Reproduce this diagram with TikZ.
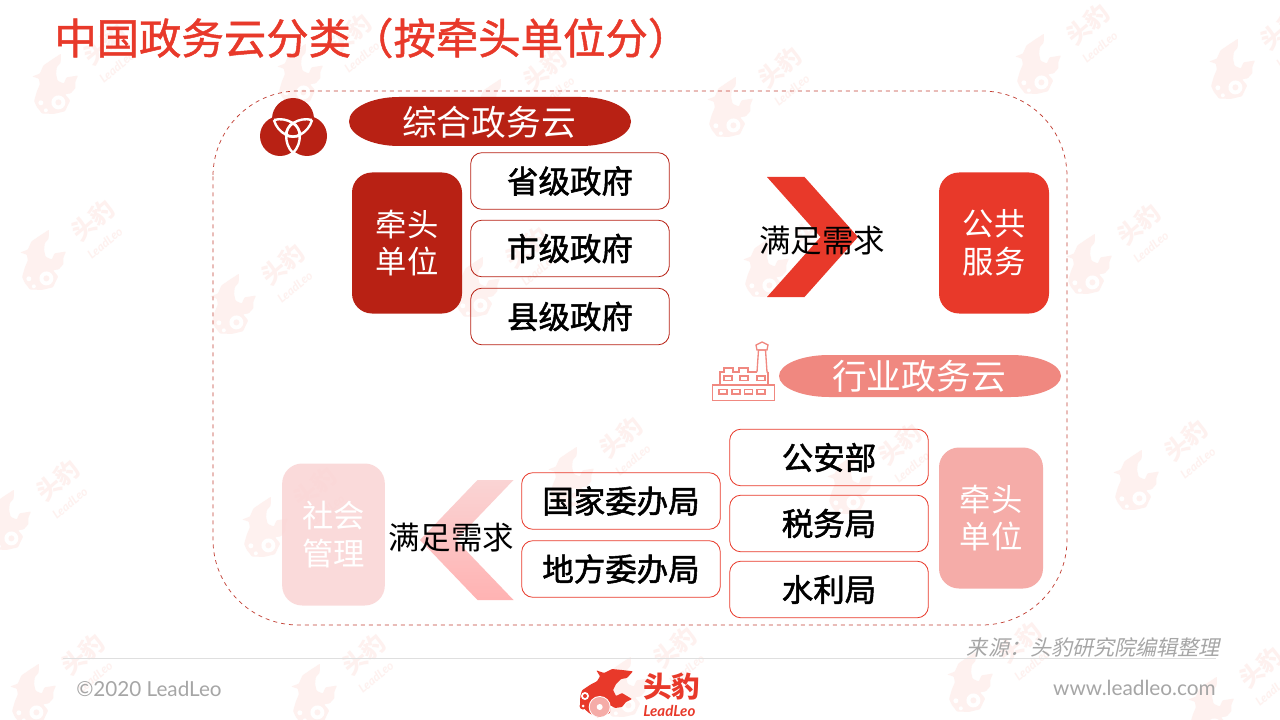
\documentclass[tikz,border=0pt]{standalone}
\usepackage{fontspec}
\usepackage{xcolor}
\newfontfamily\cjk{Noto Sans CJK SC}
\newfontfamily\cjkbf[FakeBold=1.7]{Noto Sans CJK SC}
\newfontfamily\cjkmed[FakeBold=1.1]{Noto Sans CJK SC}
\newfontfamily\cjkit[FakeSlant=0.22]{Noto Sans CJK SC}
\newfontfamily\lat{Lato}
\definecolor{leored}{HTML}{E8392A}
\definecolor{darkred}{HTML}{B82114}
\definecolor{palered}{HTML}{F08880}
\definecolor{softred}{HTML}{F5ACA8}
\definecolor{mistred}{HTML}{FAD4D4}
\definecolor{wmred}{HTML}{FEF1EF}
\definecolor{greytxt}{HTML}{A6A6A6}
\usetikzlibrary{
	calc,
	positioning,
	shadings
}
\newcommand{\leohead}[1]{%
	\fill[#1,rounded corners=.6pt] (-10.7,-22.7) -- (-3,-20) -- (5,-24) -- (15,-23) -- (26,-21.7)
		-- (20,-15) -- (14,-14) -- (9,-9) -- (6,-3) -- (9,3) -- (15,0)
		-- (25,6) -- (19,9) -- (15,14) -- (8,15) -- (3,12) -- (3,20) -- (-8,25) -- (-18,20)
		-- (-27,12) -- (-26.7,3.3) -- (-25,-2.7) -- (-16.7,-8.3) -- (-10,-11.7) -- (-7,-16.7) -- cycle;
}
\tikzset{
	unitblock/.style={fill=#1,rounded corners=15pt,text=white,align=center,
		font=\cjk\fontsize{23.5}{28.2}\selectfont,inner sep=0pt},
	namebox/.style={draw=#1,line width=.6pt,rounded corners=8.5pt,text=black,
		minimum width=149pt,minimum height=42.5pt,inner sep=0pt,
		font=\cjkbf\fontsize{23.6}{28}\selectfont},
	pilltext/.style={text=white,inner sep=0pt,font=\cjk\fontsize{26.1}{30}\selectfont},
	needtext/.style={text=black,inner sep=0pt,font=\cjk\fontsize{23.6}{28}\selectfont},
	wmark/.pic={
		\begin{scope}[rotate=40]
			\leohead{wmred}
			\fill[white] (-7.3,14) circle (7);
			\fill[wmred] (-7.3,14) circle (3);
			\fill[white] (-21,3) circle (2.5);
			\fill[white] (-22,12) circle (2);
		\end{scope}
		\node[rotate=40,text=wmred,inner sep=0pt,font=\cjk\bfseries\fontsize{18}{20}\selectfont] (-cn) at (50,-43) {头豹};
		\node[rotate=40,text=wmred,inner sep=0pt,font=\lat\bfseries\itshape\fontsize{9}{10}\selectfont] (-en) at (62,-20) {LeadLeo};
	}
}
\newcommand{\pillat}[5]{% x1,y1,x2,y2,colour
	\fill[#5] (#1,{(#2+#4)/2}) arc[start angle=180,end angle=90,x radius=50,y radius={(#4-#2)/2}]
		-- ({#3-50},#4) arc[start angle=90,end angle=-90,x radius=50,y radius={(#4-#2)/2}]
		-- ({#1+50},#2) arc[start angle=-90,end angle=-180,x radius=50,y radius={(#4-#2)/2}] -- cycle;
}

\begin{document}
\begin{tikzpicture}[x=.75pt,y=-.75pt]
	\clip (0,0) rectangle (1280,720);
	\fill[white] (0,0) rectangle (1280,720);
	% watermark
	\foreach \wx/\wy [count=\wi] in {55/87,300/77,495/112,730/110,1038/67,1232/72,
		43/263,233/307,477/290,766/270,1089/267,
		8/523,265/530,571/480,850/487,1136/483,
		33/697,314/697,625/690,970/685,1211/710}
		\pic (wm\wi) at (\wx,\wy) {wmark};
	
	\node[text=leored,anchor=west,inner sep=0pt,font=\cjkmed\fontsize{31.8}{36}\selectfont] (title) at (54,38) {中国政务云分类（按牵头单位分）};
	\draw[darkred!85!white,dashed,line width=.55pt,rounded corners=64pt] (213,91) rectangle (1067,625);
	
	% upper group
	\fill[darkred] (293,119) circle (21);
	\fill[darkred] (280,136) circle (20);
	\fill[darkred] (307,136) circle (20);
	\foreach \ang in {0,120,240}
		\draw[white,line width=1.8pt,rotate around={\ang:(293,131)}]
			(293,153) .. controls (283,143) and (285,127) .. (293,123) .. controls (301,127) and (303,143) .. (293,153);
	\pillat{349}{97}{631}{146}{darkred}
	\node[pilltext] (zonghe) at (489,122) {综合政务云};
	\node[unitblock=darkred,minimum width=82.5pt,minimum height=105.75pt] (qiantouA) at (407,243) {牵头\\单位};
	\node[namebox=darkred] (sheng) at (570,181) {省级政府};
	\node[namebox=darkred] (shi) at (570,248.5) {市级政府};
	\node[namebox=darkred] (xian) at (570,316.5) {县级政府};
	\fill[leored] (767,177) -- (804.5,177) -- (858,237) -- (804.5,297) -- (767,297) -- (820.5,237) -- cycle;
	\node[needtext] (needA) at (822,241) {满足需求};
	\node[unitblock=leored,minimum width=82.5pt,minimum height=105.75pt] (gonggong) at (994,243) {公共\\服务};
	
	% lower group
	\begin{scope}[draw=palered,line width=1pt]
		\draw (712.5,385) rectangle (774.5,400.5); %base
		\draw (720,385) -- (720,372) -- (724,372) -- (724,368) -- (733,368) -- (733,372) -- (739,372) -- (739,368) -- (748,368) -- (748,372) -- (757,372);
		\draw (768,372) -- (768,385);
		\draw (757,372) -- (758.5,350) -- (765.5,350) -- (767,372) -- (768,372);
		\draw (757,350) -- (756,345) -- (762,342) -- (768,345) -- (767,350) -- cycle;
		\foreach \wx in {719,732,744.5,757}
			\draw (\wx,389.5) rectangle ++(8,4.5);
		\foreach \wx in {724,740,757}
			\draw (\wx,376) rectangle ++(8,4.5);
	\end{scope}
	\pillat{779}{355}{1061}{397}{palered}
	\node[pilltext] (hangye) at (919,376) {行业政务云};
	\node[namebox=leored] (gongan) at (829,457.5) {公安部};
	\node[namebox=leored] (shuiwu) at (829,523.5) {税务局};
	\node[namebox=leored] (shuili) at (829,589.5) {水利局};
	\node[namebox=leored] (guojia) at (621,501) {国家委办局};
	\node[namebox=leored] (difang) at (621,569) {地方委办局};
	\node[unitblock=softred,minimum width=78pt,minimum height=105.75pt] (qiantouB) at (991,518) {牵头\\单位};
	\shade[top color=mistred,bottom color=red!30!white] (513.5,480) -- (477.5,480) -- (420,540) -- (477.5,600) -- (513.5,600) -- (456,540) -- cycle;
	\node[needtext] (needB) at (451,538) {满足需求};
	\node[unitblock=mistred,fill opacity=.85,text opacity=1,minimum width=77pt,minimum height=106.5pt] (shehui) at (333.5,534.5) {社会\\管理};
	
	% footer
	\draw[gray!25,line width=.6pt] (63,658) -- (1216,658);
	\node[text=greytxt,anchor=east,inner sep=0pt,font=\cjkit\fontsize{15.8}{18}\selectfont] (source) at (1220,647) {来源：头豹研究院编辑整理};
	\node[text=greytxt,anchor=west,inner sep=0pt,font=\lat\fontsize{15.5}{18}\selectfont] (copyr) at (76,689) {©2020 LeadLeo};
	\node[text=greytxt,anchor=east,inner sep=0pt,font=\lat\fontsize{15.6}{18}\selectfont] (website) at (1216,688) {www.leadleo.com};
	\begin{scope}[shift={(607,693)}]
		\leohead{leored}
		\fill[white] (-7.3,14) circle (11);
		\fill[softred] (-7.3,14) circle (10);
		\fill[white] (-7.3,14) circle (3);
		\fill[white] (-22,3) circle (4);
		\fill[leored] (-22,3) circle (2);
		\fill[leored] (-24,13) circle (3.5);
		\fill[white] (-24,13) circle (1.5);
	\end{scope}
	\node[text=leored,inner sep=0pt,anchor=west,font=\cjk\bfseries\fontsize{21.5}{24}\selectfont] (logocn) at (643,686.5) {头豹};
	\node[text=leored,inner sep=0pt,anchor=west,font=\lat\bfseries\itshape\fontsize{11.3}{12}\selectfont] (logoen) at (643,711) {LeadLeo};
\end{tikzpicture}
\end{document}
